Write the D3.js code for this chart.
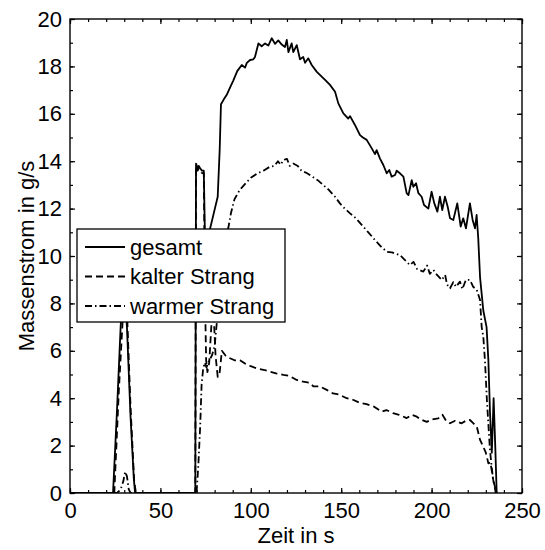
<!DOCTYPE html>
<html>
<head>
<meta charset="utf-8">
<script src="https://cdn.jsdelivr.net/npm/d3@7"></script>
<style>
  html, body { margin: 0; padding: 0; background: #fff; }
  svg { display: block; font-family: "Liberation Sans", Arial, Helvetica, sans-serif; }
</style>
</head>
<body>
<svg id="chart" width="545" height="550"></svg>
<script>
// Mass flow over time: total, cold and warm branch  [time in s, g/s]
const gesamt = [
  [0,0],[23.8,0],[26,3.5],[28,7],[29.8,9.3],[31.5,7],[33.5,3.2],[35.3,0.6],[36,0],
  [69.3,0],[69.7,13.9],[70.6,13.7],[71.2,13.8],[72,13.7],[73,13.6],[74,13.6],[74.6,11],
  [75.6,10.2],[77.3,11.1],[79.5,11.8],[81.7,12.5],[82.8,14.5],[83.5,16.4],[85,16.6],
  [86.7,16.8],[88.5,17.1],[90.3,17.4],[92.5,17.8],[95,18.06],[96.8,17.95],[97.8,18.15],
  [99.6,18.27],[101.4,18.3],[102.3,18.4],[104.2,18.97],[106,18.85],[107.9,18.97],
  [109.7,18.88],[111.6,19.19],[113.4,18.95],[115.2,19.1],[117.1,18.92],[118.9,18.82],
  [119.9,19.12],[120.8,18.6],[122.6,18.97],[123.5,18.6],[125.4,18.9],[127.2,18.3],
  [129,18.4],[130,18.15],[131.8,18.34],[133.7,18.06],[136.4,17.78],[139.2,17.57],
  [141.5,17.4],[143.8,17.22],[146.6,16.93],[148.4,16.44],[151.2,16.02],[153.9,15.8],
  [154.9,15.9],[157.6,15.53],[160.4,15.1],[162,15.0],[164.1,14.9],[166.9,14.54],
  [168.7,14.3],[169.6,14.47],[171.4,14.12],[173.3,13.84],[175.2,13.49],[176.6,13.63],
  [177.9,13.35],[179.8,13.42],[180.7,13.6],[182.5,13.49],[184.4,13.35],[186.2,12.65],
  [187.2,12.57],[189,13.2],[189.9,12.92],[191.4,13.07],[192.7,12.65],[194.5,12.5],
  [195.8,12.15],[198.2,12.0],[200,12.71],[201.5,12.22],[203.2,11.87],[204.6,12.5],
  [205.9,11.94],[207.4,12.5],[208.9,12.08],[210.2,11.59],[212,11.52],[214.2,12.22],
  [216.1,11.24],[217.5,11.59],[219,11.17],[221.2,12.22],[222.7,11.52],[224,11.17],
  [224.9,11.73],[225.8,10.75],[226.8,9.1],[228.6,7.7],[230.4,7.0],[231.4,5.6],
  [232.3,3.4],[233.3,1.7],[234.3,4.0],[235.2,2.0],[236,0]
];

const kalterStrang = [
  [0,0],[24.5,0],[27,4.3],[30,8.5],[31.2,8.3],[33.5,3.6],[35.5,0.5],[36.5,0],
  [69.3,0],[69.7,13.8],[70.6,13.6],[71.2,13.7],[72,13.6],[73,13.5],[74,13.5],[74.6,8.5],
  [75.3,5.6],[76,5.1],[77,5.5],[78.6,7.6],[79.6,7.3],[80.5,5.8],[81.7,4.9],[82.8,5.1],
  [84,6.0],[86,5.8],[88,5.7],[91,5.6],[94,5.6],[97,5.45],[100,5.35],[103.2,5.26],
  [107,5.2],[110.6,5.12],[114,5.05],[118,4.98],[121,4.95],[125.4,4.77],[129,4.7],
  [132.7,4.65],[134.6,4.5],[138,4.5],[142,4.35],[145.5,4.2],[149,4.15],[153,4.0],
  [156,3.95],[160.4,3.8],[164,3.75],[168,3.65],[172.4,3.43],[175,3.5],[178.7,3.37],
  [182,3.3],[186.2,3.16],[189,3.3],[191.8,3.22],[194,3.1],[197.3,3.0],[200,3.1],
  [203.7,3.15],[206,3.3],[208,3.05],[210.2,2.94],[213,3.05],[216.6,2.94],[219,3.05],
  [221.2,3.08],[223,2.95],[225,2.8],[226.8,2.24],[228.6,1.95],[230,1.7],[231.4,1.25],
  [232.5,1.3],[234.1,0.55],[235.5,0]
];

const warmerStrang = [
  [0,0],[26,0],[28,0.15],[29.5,0.5],[30.5,0.9],[31.5,0.7],[32.5,0.15],[33.5,0],
  [70,0],[71,1.2],[72,2.8],[72.8,4.6],[73.6,5.2],[74.5,5.5],[75.5,5.3],[77,5.6],
  [78.5,5.8],[80,6.2],[81.7,7.6],[83,9.5],[84.5,10.4],[86,10.8],[87.6,11.2],[89,11.8],
  [91,12.4],[94,12.8],[97.6,13.1],[100,13.3],[104,13.5],[107,13.6],[110.6,13.77],
  [113,13.8],[115,14.0],[116.5,13.85],[118,14.05],[120,14.1],[121.5,13.8],[123.5,13.9],
  [126,13.8],[128,13.6],[130.9,13.5],[134,13.35],[137,13.2],[140,13.0],[143,12.8],
  [146.6,12.5],[149.3,12.22],[152,12.0],[154.9,11.8],[158,11.6],[162.2,11.24],
  [165,11.0],[168.7,10.67],[172,10.4],[175.2,10.18],[178,10.15],[182.5,10.04],
  [185,9.85],[188,9.62],[190,9.75],[192,9.45],[195.4,9.34],[197.5,9.6],[199,9.25],
  [201,9.41],[203,9.2],[205.6,8.99],[207.5,9.2],[208.5,8.8],[210.2,8.64],[212,8.9],
  [213.5,8.7],[215.7,8.92],[217,8.6],[219,9.0],[221.2,8.99],[223,8.7],[225,8.57],
  [226.8,8.14],[227.7,7.0],[228.6,6.6],[229.5,5.6],[230.6,3.9],[232.3,1.8],[234,0.55],
  [236,0]
];

const xTicks = [0, 50, 100, 150, 200, 250];
const yTicks = [0, 2, 4, 6, 8, 10, 12, 14, 16, 18, 20];
const xMinorTicks = d3.range(0, 251, 10);
const yMinorTicks = d3.range(0, 21, 1);

const seriesNames = ["gesamt", "kalter Strang", "warmer Strang"];
const seriesData = [gesamt, kalterStrang, warmerStrang];
const seriesDash = [null, "7,4", "7,3,1.5,3"];

const svg = d3.select("#chart");
const plot = { left: 70, top: 19, right: 522, bottom: 493 };
const fontSize = 22;

const x = d3.scaleLinear().domain([0, 250]).range([plot.left, plot.right]);
const y = d3.scaleLinear().domain([0, 20]).range([plot.bottom, plot.top]);

svg.append("rect").attr("width", 545).attr("height", 550).attr("fill", "#fff");

svg.append("defs").append("clipPath").attr("id", "clip")
  .append("rect")
  .attr("x", plot.left).attr("y", plot.top)
  .attr("width", plot.right - plot.left).attr("height", plot.bottom - plot.top);

// data lines
const line = d3.line().x(d => x(d[0])).y(d => y(d[1]));
const lines = svg.append("g").attr("clip-path", "url(#clip)");
seriesData.forEach((data, i) => {
  lines.append("path")
    .datum(data)
    .attr("d", line)
    .attr("fill", "none")
    .attr("stroke", "#000")
    .attr("stroke-width", 1.8)
    .attr("stroke-linejoin", "round")
    .attr("stroke-dasharray", seriesDash[i]);
});

// axes: inward ticks on all four sides, minor ticks included
function styleAxis(g) {
  g.select(".domain").remove();
  g.selectAll("line").attr("stroke", "#000").attr("stroke-width", 1.2);
  g.selectAll("text").attr("fill", "#000").attr("font-size", fontSize)
    .attr("font-family", "Liberation Sans, Arial, sans-serif");
}

const axB = svg.append("g").attr("transform", `translate(0,${plot.bottom})`)
  .call(d3.axisBottom(x).tickValues(xTicks).tickSize(-5).tickSizeOuter(0).tickPadding(9)
    .tickFormat(d3.format("d")));
styleAxis(axB);
const axBm = svg.append("g").attr("transform", `translate(0,${plot.bottom})`)
  .call(d3.axisBottom(x).tickValues(xMinorTicks).tickSize(-3).tickSizeOuter(0).tickFormat(""));
styleAxis(axBm);
const axT = svg.append("g").attr("transform", `translate(0,${plot.top})`)
  .call(d3.axisTop(x).tickValues(xTicks).tickSize(-5).tickSizeOuter(0).tickFormat(""));
styleAxis(axT);
const axTm = svg.append("g").attr("transform", `translate(0,${plot.top})`)
  .call(d3.axisTop(x).tickValues(xMinorTicks).tickSize(-3).tickSizeOuter(0).tickFormat(""));
styleAxis(axTm);

const axL = svg.append("g").attr("transform", `translate(${plot.left},0)`)
  .call(d3.axisLeft(y).tickValues(yTicks).tickSize(-5).tickSizeOuter(0).tickPadding(8)
    .tickFormat(d3.format("d")));
styleAxis(axL);
const axLm = svg.append("g").attr("transform", `translate(${plot.left},0)`)
  .call(d3.axisLeft(y).tickValues(yMinorTicks).tickSize(-3).tickSizeOuter(0).tickFormat(""));
styleAxis(axLm);
const axR = svg.append("g").attr("transform", `translate(${plot.right},0)`)
  .call(d3.axisRight(y).tickValues(yTicks).tickSize(-5).tickSizeOuter(0).tickFormat(""));
styleAxis(axR);
const axRm = svg.append("g").attr("transform", `translate(${plot.right},0)`)
  .call(d3.axisRight(y).tickValues(yMinorTicks).tickSize(-3).tickSizeOuter(0).tickFormat(""));
styleAxis(axRm);

// plot box
svg.append("rect")
  .attr("x", plot.left).attr("y", plot.top)
  .attr("width", plot.right - plot.left).attr("height", plot.bottom - plot.top)
  .attr("fill", "none").attr("stroke", "#000").attr("stroke-width", 1.4);

// axis titles
svg.append("text")
  .attr("x", (plot.left + plot.right) / 2).attr("y", 543)
  .attr("text-anchor", "middle").attr("font-size", fontSize).attr("fill", "#000")
  .text("Zeit in s");
svg.append("text")
  .attr("transform", `translate(34,${(plot.top + plot.bottom) / 2}) rotate(-90)`)
  .attr("text-anchor", "middle").attr("font-size", fontSize).attr("fill", "#000")
  .text("Massenstrom in g/s");

// legend
const legend = svg.append("g").attr("transform", "translate(77,229)");
legend.append("rect")
  .attr("width", 208).attr("height", 93)
  .attr("fill", "#fff").attr("stroke", "#000").attr("stroke-width", 1.3);
seriesNames.forEach((name, i) => {
  const cy = 18 + i * 29.5;
  legend.append("line")
    .attr("x1", 8).attr("x2", 48).attr("y1", cy).attr("y2", cy)
    .attr("stroke", "#000").attr("stroke-width", 1.8)
    .attr("stroke-dasharray", seriesDash[i]);
  legend.append("text")
    .attr("x", 53).attr("y", cy).attr("dy", "0.36em")
    .attr("font-size", fontSize).attr("fill", "#000")
    .text(name);
});
</script>
</body>
</html>
